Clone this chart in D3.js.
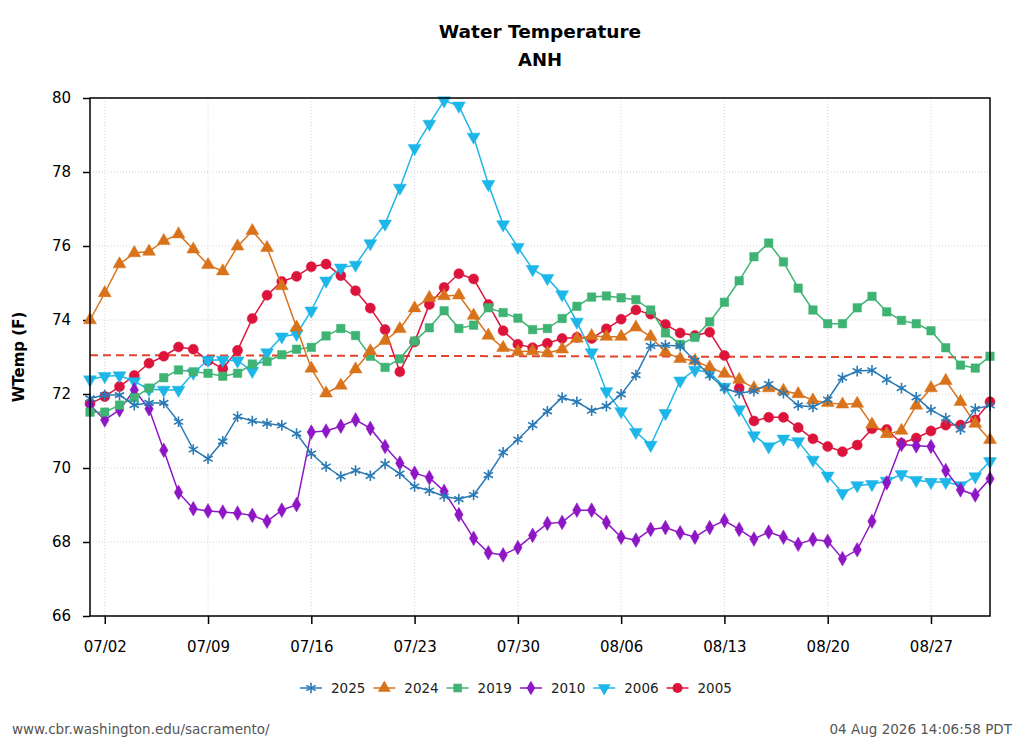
<!DOCTYPE html>
<html>
<head>
<meta charset="utf-8">
<script src="https://cdn.jsdelivr.net/npm/d3@7"></script>
<style>
  body { margin: 0; background: #fff; }
  text { font-family: "DejaVu Sans", sans-serif; }
</style>
</head>
<body>
<script>
// daily values 07/01 .. 08/31
var firstDay = "2026-07-01";
var lastDay = "2026-08-31";
var xTickLabels = ["07/02", "07/09", "07/16", "07/23", "07/30", "08/06", "08/13", "08/20", "08/27"];
var yTicks = [66, 68, 70, 72, 74, 76, 78, 80];

var years = ["2025", "2024", "2019", "2010", "2006", "2005"];

var t2025 = [71.88, 71.97, 71.97, 71.70, 71.76, 71.76, 71.25, 70.50, 70.25, 70.72,
  71.39, 71.27, 71.20, 71.15, 70.93, 70.39, 70.04, 69.77, 69.93, 69.79,
  70.11, 69.85, 69.50, 69.39, 69.23, 69.16, 69.27, 69.81, 70.42, 70.77,
  71.16, 71.53, 71.90, 71.79, 71.55, 71.67, 71.99, 72.51, 73.30, 73.32,
  73.30, 72.90, 72.50, 72.16, 72.02, 72.08, 72.27, 72.02, 71.69, 71.65,
  71.85, 72.44, 72.62, 72.64, 72.39, 72.16, 71.91, 71.57, 71.35, 71.04,
  71.60, 71.69];
var t2024 = [74.00, 74.73, 75.51, 75.81, 75.85, 76.14, 76.32, 75.91, 75.49, 75.32,
  75.99, 76.41, 75.95, 74.92, 73.80, 72.69, 72.02, 72.23, 72.67, 73.16,
  73.44, 73.76, 74.32, 74.60, 74.65, 74.67, 74.12, 73.58, 73.25, 73.14,
  73.16, 73.11, 73.21, 73.50, 73.57, 73.55, 73.55, 73.80, 73.55, 73.13,
  72.95, 72.90, 72.72, 72.55, 72.39, 72.16, 72.16, 72.09, 72.00, 71.83,
  71.76, 71.72, 71.74, 71.18, 70.92, 71.01, 71.69, 72.16, 72.36, 71.79,
  71.20, 70.76];
var t2019 = [71.51, 71.51, 71.70, 71.90, 72.16, 72.44, 72.65, 72.60, 72.56, 72.48,
  72.56, 72.81, 72.88, 73.06, 73.21, 73.26, 73.57, 73.77, 73.58, 73.02,
  72.72, 72.95, 73.43, 73.79, 74.25, 73.77, 73.86, 74.33, 74.20, 74.05,
  73.74, 73.77, 74.04, 74.37, 74.62, 74.65, 74.60, 74.55, 74.27, 73.65,
  73.34, 73.53, 73.95, 74.48, 75.06, 75.71, 76.08, 75.57, 74.86, 74.27,
  73.90, 73.90, 74.33, 74.64, 74.22, 73.99, 73.90, 73.71, 73.25, 72.78,
  72.70, 73.02];
var t2010 = [71.70, 71.30, 71.57, 72.11, 71.60, 70.48, 69.34, 68.90, 68.84, 68.81,
  68.78, 68.72, 68.56, 68.86, 69.01, 70.97, 71.00, 71.13, 71.30, 71.07,
  70.58, 70.13, 69.86, 69.74, 69.37, 68.74, 68.10, 67.71, 67.65, 67.85,
  68.18, 68.50, 68.53, 68.86, 68.86, 68.53, 68.13, 68.05, 68.34, 68.39,
  68.25, 68.13, 68.39, 68.58, 68.34, 68.08, 68.27, 68.13, 67.94, 68.07,
  68.02, 67.55, 67.79, 68.56, 69.60, 70.64, 70.60, 70.58, 69.93, 69.41,
  69.27, 69.71];
var t2006 = [72.39, 72.48, 72.50, 72.34, 72.13, 72.11, 72.11, 72.57, 72.92, 72.92,
  72.90, 72.62, 73.12, 73.55, 73.62, 74.25, 75.06, 75.41, 75.49, 76.07,
  76.60, 77.57, 78.64, 79.30, 79.93, 79.79, 78.95, 77.67, 76.58, 75.97,
  75.37, 75.13, 74.69, 73.95, 73.12, 72.07, 71.53, 70.97, 70.62, 71.48,
  72.36, 72.65, 72.58, 72.19, 71.58, 70.88, 70.58, 70.79, 70.72, 70.22,
  69.79, 69.32, 69.53, 69.56, 69.65, 69.83, 69.67, 69.62, 69.62, 69.53,
  69.77, 70.18];
var t2005 = [71.74, 71.93, 72.20, 72.50, 72.83, 73.02, 73.27, 73.21, 72.90, 72.69,
  73.18, 74.04, 74.67, 75.04, 75.18, 75.44, 75.51, 75.20, 74.79, 74.32,
  73.74, 72.60, 73.41, 74.42, 74.88, 75.25, 75.11, 74.42, 73.71, 73.34,
  73.25, 73.37, 73.50, 73.53, 73.50, 73.76, 74.02, 74.27, 74.16, 73.88,
  73.65, 73.58, 73.67, 73.04, 72.16, 71.27, 71.37, 71.37, 71.09, 70.79,
  70.58, 70.44, 70.62, 71.06, 71.04, 70.67, 70.81, 71.00, 71.16, 71.16,
  71.30, 71.79];
// dashed reference line, value at first and last day
var refLine = [73.05, 72.99];

var seriesValues = [t2025, t2024, t2019, t2010, t2006, t2005];
var colors = ["#2a7ab5", "#d9731b", "#3fb373", "#8e16c4", "#1db6e8", "#dc143c"];
var shapes = [d3.symbolAsterisk, d3.symbolTriangle, d3.symbolSquare, d3.symbolDiamond, d3.symbolTriangle, d3.symbolCircle];
var shapeSize = [80, 72, 72, 62, 72, 80];
var shapeRot = [0, 0, 0, 0, 180, 0];

var width = 1024, height = 745;
var plotLeft = 90, plotRight = 990, plotTop = 98, plotBottom = 616;

var parse = d3.timeParse("%Y-%m-%d");
var days = d3.timeDay.range(parse(firstDay), d3.timeDay.offset(parse(lastDay), 1));
var parseTick = d3.timeParse("%Y %m/%d");
var tickDates = xTickLabels.map(function(s) { return parseTick("2026 " + s); });

var x = d3.scaleTime().domain([parse(firstDay), parse(lastDay)]).range([plotLeft, plotRight]);
var y = d3.scaleLinear().domain([66, 80]).range([plotBottom, plotTop]);

var svg = d3.select("body").append("svg")
  .attr("width", width)
  .attr("height", height);

// grid
svg.append("g").selectAll("line").data(yTicks).enter().append("line")
  .attr("x1", plotLeft).attr("x2", plotRight)
  .attr("y1", function(d) { return y(d); })
  .attr("y2", function(d) { return y(d); })
  .attr("stroke", "#c8c8c8").attr("stroke-width", 0.8)
  .attr("stroke-dasharray", "1,2");
svg.append("g").selectAll("line").data(tickDates).enter().append("line")
  .attr("y1", plotTop).attr("y2", plotBottom)
  .attr("x1", function(d) { return x(d); })
  .attr("x2", function(d) { return x(d); })
  .attr("stroke", "#c8c8c8").attr("stroke-width", 0.8)
  .attr("stroke-dasharray", "1,2");

// axes
var yAxis = svg.append("g")
  .attr("transform", "translate(" + plotLeft + ",0)")
  .call(d3.axisLeft(y).tickValues(yTicks).tickSize(7).tickPadding(12).tickFormat(d3.format("d")));
var xAxis = svg.append("g")
  .attr("transform", "translate(0," + plotBottom + ")")
  .call(d3.axisBottom(x).tickValues(tickDates).tickSize(8).tickPadding(17).tickFormat(d3.timeFormat("%m/%d")));
[yAxis, xAxis].forEach(function(a) {
  a.select(".domain").remove();
  a.selectAll("text").attr("font-size", 15).attr("fill", "#000")
    .attr("font-family", "DejaVu Sans");
  a.selectAll(".tick line").attr("stroke", "#000").attr("stroke-width", 1.5);
});

// dashed line
svg.append("line")
  .attr("x1", x(parse(firstDay))).attr("x2", x(parse(lastDay)))
  .attr("y1", y(refLine[0])).attr("y2", y(refLine[1]))
  .attr("stroke", "#e4432b").attr("stroke-width", 2)
  .attr("stroke-dasharray", "8,5");

var line = d3.line()
  .x(function(d, i) { return x(days[i]); })
  .y(function(d) { return y(d); });

function symbolPath(k) {
  return d3.symbol().type(shapes[k]).size(shapeSize[k])();
}

// draw last series first so 2025 ends on top
for (var k = seriesValues.length - 1; k >= 0; k--) {
  var g = svg.append("g");
  g.append("path")
    .attr("d", line(seriesValues[k]))
    .attr("fill", "none")
    .attr("stroke", colors[k])
    .attr("stroke-width", 1.5);
  var pts = g.selectAll("path.pt").data(seriesValues[k]).enter().append("path")
    .attr("class", "pt")
    .attr("d", symbolPath(k))
    .attr("transform", function(d, i) {
      return "translate(" + x(days[i]) + "," + y(d) + ") rotate(" + shapeRot[k] + ")";
    });
  if (shapes[k] === d3.symbolAsterisk) {
    pts.attr("fill", "none").attr("stroke", colors[k]).attr("stroke-width", 1.6);
  } else {
    pts.attr("fill", colors[k]).attr("stroke", colors[k]).attr("stroke-width", 0.5);
  }
}

// frame
svg.append("rect")
  .attr("x", plotLeft).attr("y", plotTop)
  .attr("width", plotRight - plotLeft).attr("height", plotBottom - plotTop)
  .attr("fill", "none").attr("stroke", "#000").attr("stroke-width", 1.5);

// titles
svg.append("text").attr("x", 540).attr("y", 38)
  .attr("text-anchor", "middle").attr("font-weight", "bold").attr("font-size", 18.5)
  .text("Water Temperature");
svg.append("text").attr("x", 540).attr("y", 66)
  .attr("text-anchor", "middle").attr("font-weight", "bold").attr("font-size", 18)
  .text("ANH");
svg.append("text")
  .attr("transform", "translate(24,357) rotate(-90)")
  .attr("text-anchor", "middle").attr("font-weight", "bold").attr("font-size", 15)
  .text("WTemp (F)");

// legend
var legend = svg.append("g").attr("transform", "translate(300,688)");
years.forEach(function(name, k) {
  var item = legend.append("g").attr("transform", "translate(" + (k * 73.3) + ",0)");
  item.append("line").attr("x1", 0).attr("x2", 22).attr("y1", 0).attr("y2", 0)
    .attr("stroke", colors[k]).attr("stroke-width", 1.5);
  var s = item.append("path").attr("d", symbolPath(k))
    .attr("transform", "translate(11,0) rotate(" + shapeRot[k] + ")");
  if (shapes[k] === d3.symbolAsterisk) {
    s.attr("fill", "none").attr("stroke", colors[k]).attr("stroke-width", 1.6);
  } else {
    s.attr("fill", colors[k]);
  }
  item.append("text").attr("x", 31).attr("y", 5)
    .attr("font-size", 13.5).attr("fill", "#222")
    .text(name);
});

// footer
svg.append("text").attr("x", 12).attr("y", 734)
  .attr("font-size", 13.5).attr("fill", "#555")
  .text("www.cbr.washington.edu/sacramento/");
svg.append("text").attr("x", 1012).attr("y", 734)
  .attr("text-anchor", "end").attr("font-size", 13.5).attr("fill", "#555")
  .text("04 Aug 2026 14:06:58 PDT");
</script>
</body>
</html>
